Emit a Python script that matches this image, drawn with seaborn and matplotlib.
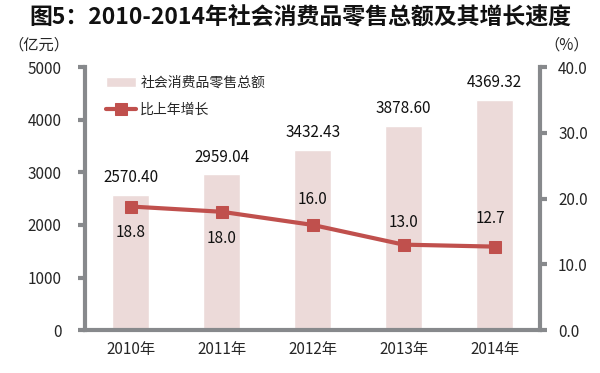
import matplotlib
matplotlib.use("Agg")
import matplotlib.pyplot as plt
import seaborn as sns
import pandas as pd
import numpy as np

years = ["2010年", "2011年", "2012年", "2013年", "2014年"]
sales = [2570.40, 2959.04, 3432.43, 3878.60, 4369.32]
growth = [18.8, 18.0, 16.0, 13.0, 12.7]

sns.set_theme(style="white")
plt.rcParams['font.family'] = ['Noto Sans CJK SC', 'DejaVu Sans']

bar_color = "#ecdad9"
line_color = "#c0504d"
spine_color = "#87898c"

fig = plt.figure(figsize=(6, 3.73), dpi=100)
ax = fig.add_axes([0.142, 0.115, 0.758, 0.705])
df = pd.DataFrame({"year": years, "sales": sales, "growth": growth})
sns.barplot(data=df, x="year", y="sales", color=bar_color, width=0.4, ax=ax,
            label="社会消费品零售总额", saturation=1)
ax.set_ylim(0, 5000)
ax.set_xlim(-0.5, 4.5)
ax.set_yticks(range(0, 5001, 1000))
ax.set_xlabel("")
ax.set_ylabel("")

ax2 = ax.twinx()
sns.lineplot(data=df, x="year", y="growth", color=line_color, marker="s",
             markersize=9, linewidth=3, ax=ax2, label="比上年增长", markeredgecolor=line_color)
ax2.set_ylim(0, 40)
ax2.set_yticks(np.arange(0, 41, 10))
ax2.set_yticklabels([f"{v:.1f}" for v in np.arange(0, 41, 10)])
ax2.set_ylabel("")
ax2.set_xlim(-0.5, 4.5)

for a in (ax, ax2):
    for s in a.spines.values():
        s.set_visible(False)
ax.spines['left'].set_visible(True)
ax.spines['bottom'].set_visible(True)
ax2.spines['right'].set_visible(True)
for s in (ax.spines['left'], ax.spines['bottom'], ax2.spines['right']):
    s.set_color(spine_color)
    s.set_linewidth(3)

ax.set_xticks(np.arange(-0.5, 5, 1), minor=False)
ax.set_xticklabels([])
ax.set_xticks(range(5), minor=True)
ax.set_xticklabels(years, minor=True, fontsize=11)
ax.tick_params(axis='x', which='minor', length=0, pad=8)
ax.tick_params(axis='x', which='major', direction='out', length=5, width=3, color=spine_color)
ax.tick_params(axis='y', direction='out', length=5, width=3, color=spine_color, labelsize=11, pad=12)
ax2.tick_params(axis='y', direction='out', length=5, width=3, color=spine_color, labelsize=11, pad=8)

for i, v in enumerate(sales):
    ax.text(i, v + 330, f"{v:.2f}", ha="center", va="center", fontsize=11, color="#111111")

offsets = [(0, -3.9), (0, -4.1), (0, 3.8), (0, 3.4), (-0.05, 4.3)]
for i, v in enumerate(growth):
    dx, dy = offsets[i]
    ax2.text(i + dx, v + dy, f"{v:.1f}", ha="center", va="center", fontsize=11, color="#111111")

h1, l1 = ax.get_legend_handles_labels()
h2, l2 = ax2.get_legend_handles_labels()
if ax2.get_legend():
    ax2.get_legend().remove()
if ax.get_legend():
    ax.get_legend().remove()
fig.legend(h1 + h2, l1 + l2, loc="upper left", bbox_to_anchor=(0.155, 0.83), frameon=False,
           fontsize=10, handlelength=2.2, labelspacing=0.9, handletextpad=0.3)

fig.text(0.5, 0.955, "图5：2010-2014年社会消费品零售总额及其增长速度", ha="center", va="center",
         fontsize=16.5, fontweight="bold", color="#111111")
fig.text(0.065, 0.88, "（亿元）", ha="center", va="center", fontsize=11)
fig.text(0.945, 0.88, "（%）", ha="center", va="center", fontsize=11)

fig.savefig("out.png", dpi=100)
